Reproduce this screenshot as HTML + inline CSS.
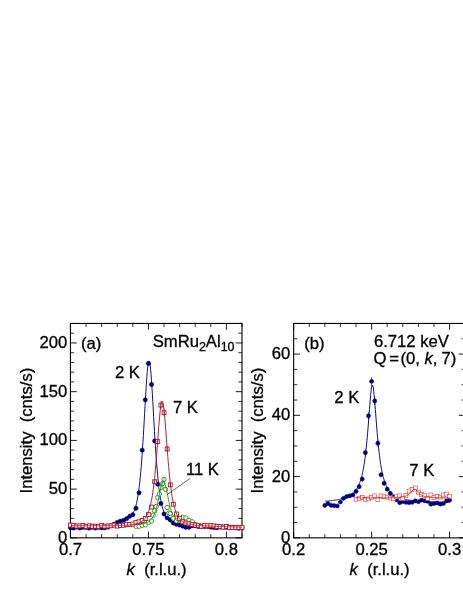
<!DOCTYPE html>
<html><head><meta charset="utf-8"><title>chart</title>
<style>html,body{margin:0;padding:0;background:#fff;}svg{display:block;will-change:transform;}text{font-family:"Liberation Sans", sans-serif;font-size:16px;fill:#000;stroke:#000;stroke-width:0.3px;}.s{font-size:12px;}.i{font-style:italic;}</style>
</head><body>
<svg width="463" height="599" viewBox="0 0 463 599">
<rect width="463" height="599" fill="#fff"/>
<g>
<path fill="none" stroke="#000" stroke-width="0.9" d="M70.45 537.85v-6.3M70.45 323.45v6.3M148.43 537.85v-6.3M148.43 323.45v6.3M226.4 537.85v-6.3M226.4 323.45v6.3M70.45 537.85h6.3M242 537.85h-6.3M70.45 489.12h6.3M242 489.12h-6.3M70.45 440.4h6.3M242 440.4h-6.3M70.45 391.67h6.3M242 391.67h-6.3M70.45 342.94h6.3M242 342.94h-6.3"/>
<path fill="none" stroke="#000" stroke-width="0.8" d="M86.05 537.85v-3.7M86.05 323.45v3.7M101.64 537.85v-3.7M101.64 323.45v3.7M117.24 537.85v-3.7M117.24 323.45v3.7M132.83 537.85v-3.7M132.83 323.45v3.7M164.02 537.85v-3.7M164.02 323.45v3.7M179.62 537.85v-3.7M179.62 323.45v3.7M195.21 537.85v-3.7M195.21 323.45v3.7M210.81 537.85v-3.7M210.81 323.45v3.7M242 537.85v-3.7M242 323.45v3.7M70.45 528.1h3.7M242 528.1h-3.7M70.45 518.36h3.7M242 518.36h-3.7M70.45 508.61h3.7M242 508.61h-3.7M70.45 498.87h3.7M242 498.87h-3.7M70.45 479.38h3.7M242 479.38h-3.7M70.45 469.63h3.7M242 469.63h-3.7M70.45 459.89h3.7M242 459.89h-3.7M70.45 450.14h3.7M242 450.14h-3.7M70.45 430.65h3.7M242 430.65h-3.7M70.45 420.9h3.7M242 420.9h-3.7M70.45 411.16h3.7M242 411.16h-3.7M70.45 401.41h3.7M242 401.41h-3.7M70.45 381.92h3.7M242 381.92h-3.7M70.45 372.18h3.7M242 372.18h-3.7M70.45 362.43h3.7M242 362.43h-3.7M70.45 352.69h3.7M242 352.69h-3.7M70.45 333.2h3.7M242 333.2h-3.7M70.45 323.45h3.7M242 323.45h-3.7"/>
<rect x="70.45" y="323.45" width="171.55" height="214.4" fill="none" stroke="#000" stroke-width="1.1"/>
<text transform="translate(70.45 554.6) scale(1.04 1.0)" text-anchor="middle">0.7</text>
<text transform="translate(148.43 554.6) scale(1.04 1.0)" text-anchor="middle">0.75</text>
<text transform="translate(226.4 554.6) scale(1.04 1.0)" text-anchor="middle">0.8</text>
<text transform="translate(67.15 542.85) scale(1.04 1.0)" text-anchor="end">0</text>
<text transform="translate(67.15 494.12) scale(1.04 1.0)" text-anchor="end">50</text>
<text transform="translate(67.15 445.4) scale(1.04 1.0)" text-anchor="end">100</text>
<text transform="translate(67.15 396.67) scale(1.04 1.0)" text-anchor="end">150</text>
<text transform="translate(67.15 347.94) scale(1.04 1.0)" text-anchor="end">200</text>
<polyline fill="none" stroke="#00007d" stroke-width="0.95" stroke-linejoin="round" points="70.45,526.8 70.88,526.8 71.31,526.8 71.74,526.8 72.17,526.8 72.59,526.8 73.02,526.8 73.45,526.79 73.88,526.79 74.31,526.79 74.74,526.79 75.17,526.79 75.6,526.79 76.03,526.79 76.45,526.79 76.88,526.79 77.31,526.78 77.74,526.78 78.17,526.78 78.6,526.78 79.03,526.78 79.46,526.78 79.88,526.78 80.31,526.78 80.74,526.77 81.17,526.77 81.6,526.77 82.03,526.77 82.46,526.77 82.89,526.77 83.32,526.76 83.74,526.76 84.17,526.76 84.6,526.76 85.03,526.76 85.46,526.75 85.89,526.75 86.32,526.75 86.75,526.75 87.18,526.74 87.6,526.74 88.03,526.74 88.46,526.74 88.89,526.73 89.32,526.73 89.75,526.73 90.18,526.72 90.61,526.72 91.04,526.72 91.46,526.71 91.89,526.71 92.32,526.71 92.75,526.7 93.18,526.7 93.61,526.69 94.04,526.69 94.47,526.68 94.9,526.68 95.32,526.67 95.75,526.67 96.18,526.66 96.61,526.66 97.04,526.65 97.47,526.65 97.9,526.64 98.33,526.63 98.75,526.63 99.18,526.62 99.61,526.61 100.04,526.61 100.47,526.6 100.9,526.59 101.33,526.58 101.76,526.57 102.19,526.56 102.61,526.55 103.04,526.54 103.47,526.53 103.9,526.52 104.33,526.51 104.76,526.49 105.19,526.48 105.62,526.47 106.05,526.45 106.47,526.44 106.9,526.42 107.33,526.4 107.76,526.38 108.19,526.36 108.62,526.34 109.05,526.31 109.48,526.29 109.91,526.26 110.33,526.23 110.76,526.19 111.19,526.15 111.62,526.1 112.05,526.05 112.48,525.99 112.91,525.92 113.34,525.84 113.77,525.75 114.19,525.65 114.62,525.53 115.05,525.4 115.48,525.25 115.91,525.09 116.34,524.9 116.77,524.7 117.2,524.47 117.62,524.22 118.05,523.96 118.48,523.67 118.91,523.36 119.34,523.03 119.77,522.68 120.2,522.32 120.63,521.95 121.06,521.57 121.48,521.18 121.91,520.8 122.34,520.42 122.77,520.04 123.2,519.68 123.63,519.33 124.06,518.99 124.49,518.68 124.92,518.39 125.34,518.13 125.77,517.89 126.2,517.67 126.63,517.47 127.06,517.3 127.49,517.13 127.92,516.97 128.35,516.82 128.78,516.66 129.2,516.5 129.63,516.31 130.06,516.1 130.49,515.85 130.92,515.56 131.35,515.21 131.78,514.8 132.21,514.32 132.64,513.76 133.06,513.11 133.49,512.35 133.92,511.49 134.35,510.5 134.78,509.39 135.21,508.12 135.64,506.71 136.07,505.12 136.49,503.34 136.92,501.37 137.35,499.18 137.78,496.75 138.21,494.07 138.64,491.11 139.07,487.86 139.5,484.29 139.93,480.38 140.35,476.11 140.78,471.47 141.21,466.45 141.64,461.02 142.07,455.2 142.5,448.98 142.93,442.39 143.36,435.46 143.79,428.24 144.21,420.8 144.64,413.23 145.07,405.63 145.5,398.15 145.93,390.92 146.36,384.12 146.79,377.9 147.22,372.45 147.65,367.93 148.07,364.48 148.5,362.22 148.93,361.21 149.36,361.51 149.79,363.09 150.22,365.91 150.65,369.86 151.08,374.83 151.51,380.64 151.93,387.15 152.36,394.17 152.79,401.53 153.22,409.08 153.65,416.69 154.08,424.21 154.51,431.56 154.94,438.66 155.36,445.45 155.79,451.87 156.22,457.92 156.65,463.57 157.08,468.83 157.51,473.69 157.94,478.18 158.37,482.3 158.8,486.08 159.22,489.54 159.65,492.7 160.08,495.58 160.51,498.2 160.94,500.59 161.37,502.77 161.8,504.75 162.23,506.55 162.66,508.19 163.08,509.68 163.51,511.04 163.94,512.27 164.37,513.4 164.8,514.43 165.23,515.37 165.66,516.22 166.09,517.01 166.52,517.72 166.94,518.38 167.37,518.98 167.8,519.53 168.23,520.04 168.66,520.5 169.09,520.93 169.52,521.32 169.95,521.69 170.37,522.02 170.8,522.33 171.23,522.62 171.66,522.88 172.09,523.12 172.52,523.35 172.95,523.56 173.38,523.75 173.81,523.94 174.23,524.1 174.66,524.26 175.09,524.41 175.52,524.54 175.95,524.67 176.38,524.79 176.81,524.9 177.24,525 177.67,525.1 178.09,525.19 178.52,525.27 178.95,525.35 179.38,525.43 179.81,525.5 180.24,525.56 180.67,525.63 181.1,525.68 181.53,525.74 181.95,525.79 182.38,525.84 182.81,525.89 183.24,525.93 183.67,525.97 184.1,526.01 184.53,526.05 184.96,526.08 185.39,526.11 185.81,526.14 186.24,526.17 186.67,526.2 187.1,526.23 187.53,526.26 187.96,526.29 188.39,526.32 188.82,526.36 189.24,526.39 189.67,526.42 190.1,526.45 190.53,526.48 190.96,526.5 191.39,526.53 191.82,526.56 192.25,526.58 192.68,526.61 193.1,526.63 193.53,526.65 193.96,526.68 194.39,526.7 194.82,526.72 195.25,526.74 195.68,526.76 196.11,526.78 196.54,526.8 196.96,526.82 197.39,526.84 197.82,526.86 198.25,526.88 198.68,526.9 199.11,526.92 199.54,526.93 199.97,526.95 200.4,526.97 200.82,526.98 201.25,527 201.68,527.02 202.11,527.03 202.54,527.05 202.97,527.07 203.4,527.08 203.83,527.1 204.26,527.11 204.68,527.13 205.11,527.14 205.54,527.16 205.97,527.17 206.4,527.19 206.83,527.2 207.26,527.21 207.69,527.23 208.11,527.24 208.54,527.26 208.97,527.27 209.4,527.28 209.83,527.3 210.26,527.31 210.69,527.32 211.12,527.34 211.55,527.35 211.97,527.36 212.4,527.38 212.83,527.39 213.26,527.4 213.69,527.42 214.12,527.43 214.55,527.44 214.98,527.45 215.41,527.47 215.83,527.48 216.26,527.49 216.69,527.5 217.12,527.52 217.55,527.53 217.98,527.54 218.41,527.55 218.84,527.56 219.27,527.58 219.69,527.59 220.12,527.6 220.55,527.61 220.98,527.62 221.41,527.64 221.84,527.65 222.27,527.66 222.7,527.67 223.13,527.68 223.55,527.7 223.98,527.71 224.41,527.72 224.84,527.73 225.27,527.74 225.7,527.75 226.13,527.77 226.56,527.78 226.98,527.79 227.41,527.8 227.84,527.81 228.27,527.82 228.7,527.83 229.13,527.85 229.56,527.86 229.99,527.87 230.42,527.88 230.84,527.89 231.27,527.9 231.7,527.91 232.13,527.93 232.56,527.94 232.99,527.95 233.42,527.96 233.85,527.97 234.28,527.98 234.7,527.99 235.13,528 235.56,528.02 235.99,528.03 236.42,528.04 236.85,528.05 237.28,528.06 237.71,528.07 238.14,528.08 238.56,528.09 238.99,528.11 239.42,528.12 239.85,528.13 240.28,528.14 240.71,528.15 241.14,528.16 241.57,528.17 242,528.18"/>
<g fill="#00007d" stroke="#00007d" stroke-width="0.4">
<circle cx="70.45" cy="527.69" r="2.2"/>
<circle cx="73.57" cy="527.99" r="2.2"/>
<circle cx="76.69" cy="527.11" r="2.2"/>
<circle cx="79.81" cy="528.11" r="2.2"/>
<circle cx="82.93" cy="527.29" r="2.2"/>
<circle cx="86.05" cy="527.57" r="2.2"/>
<circle cx="89.16" cy="528.09" r="2.2"/>
<circle cx="92.28" cy="527.28" r="2.2"/>
<circle cx="95.4" cy="528.07" r="2.2"/>
<circle cx="98.52" cy="527.33" r="2.2"/>
<circle cx="101.64" cy="527.91" r="2.2"/>
<circle cx="104.76" cy="527.8" r="2.2"/>
<circle cx="107.88" cy="527.09" r="2.2"/>
<circle cx="111" cy="525.57" r="2.2"/>
<circle cx="114.12" cy="524.21" r="2.2"/>
<circle cx="117.24" cy="522.35" r="2.2"/>
<circle cx="120.35" cy="521.09" r="2.2"/>
<circle cx="123.47" cy="520.41" r="2.2"/>
<circle cx="126.59" cy="518.65" r="2.2"/>
<circle cx="129.71" cy="516.31" r="2.2"/>
<circle cx="132.83" cy="514.75" r="2.2"/>
<circle cx="135.95" cy="508.32" r="2.2"/>
<circle cx="139.07" cy="492.73" r="2.2"/>
<circle cx="142.19" cy="450.14" r="2.2"/>
<circle cx="145.31" cy="399.85" r="2.2"/>
<circle cx="148.43" cy="363.41" r="2.2"/>
<circle cx="151.54" cy="384.46" r="2.2"/>
<circle cx="154.66" cy="440.88" r="2.2"/>
<circle cx="157.78" cy="484.25" r="2.2"/>
<circle cx="160.9" cy="503.55" r="2.2"/>
<circle cx="164.02" cy="513.97" r="2.2"/>
<circle cx="167.14" cy="517.87" r="2.2"/>
<circle cx="170.26" cy="519.72" r="2.2"/>
<circle cx="173.38" cy="522.94" r="2.2"/>
<circle cx="176.5" cy="524.21" r="2.2"/>
<circle cx="179.62" cy="524.99" r="2.2"/>
<circle cx="182.73" cy="526.16" r="2.2"/>
<circle cx="185.85" cy="527.32" r="2.2"/>
<circle cx="188.97" cy="527.28" r="2.2"/>
<circle cx="192.09" cy="525.69" r="2.2"/>
<circle cx="195.21" cy="525.78" r="2.2"/>
<circle cx="198.33" cy="526.61" r="2.2"/>
<circle cx="201.45" cy="526.56" r="2.2"/>
<circle cx="204.57" cy="526.54" r="2.2"/>
<circle cx="207.69" cy="526.45" r="2.2"/>
<circle cx="210.81" cy="527.13" r="2.2"/>
<circle cx="213.92" cy="527.5" r="2.2"/>
<circle cx="217.04" cy="527.72" r="2.2"/>
<circle cx="220.16" cy="527.11" r="2.2"/>
<circle cx="223.28" cy="527.1" r="2.2"/>
<circle cx="226.4" cy="527.37" r="2.2"/>
<circle cx="229.52" cy="527.57" r="2.2"/>
<circle cx="232.64" cy="527.4" r="2.2"/>
<circle cx="235.76" cy="527.84" r="2.2"/>
<circle cx="238.88" cy="528.33" r="2.2"/>
<circle cx="242" cy="527.84" r="2.2"/>
</g>
<g fill="#fff" stroke="#2aa02a" stroke-width="1.0">
<circle cx="135.95" cy="526.31" r="2.2"/>
<circle cx="139.07" cy="526.29" r="2.2"/>
<circle cx="142.19" cy="525.31" r="2.2"/>
<circle cx="145.31" cy="524.79" r="2.2"/>
<circle cx="148.43" cy="522.38" r="2.2"/>
<circle cx="151.54" cy="520.9" r="2.2"/>
<circle cx="153.1" cy="515.2" r="2.2"/>
<circle cx="154.66" cy="510.86" r="2.2"/>
<circle cx="156.22" cy="506.57" r="2.2"/>
<circle cx="157.78" cy="497.5" r="2.2"/>
<circle cx="159.34" cy="494" r="2.2"/>
<circle cx="160.9" cy="487.56" r="2.2"/>
<circle cx="162.46" cy="483.76" r="2.2"/>
<circle cx="164.02" cy="479.38" r="2.2"/>
<circle cx="165.58" cy="489.42" r="2.2"/>
<circle cx="167.14" cy="507.44" r="2.2"/>
<circle cx="168.7" cy="513" r="2.2"/>
<circle cx="170.26" cy="513.49" r="2.2"/>
<circle cx="173.38" cy="518.16" r="2.2"/>
<circle cx="176.5" cy="520.8" r="2.2"/>
<circle cx="179.62" cy="519.33" r="2.2"/>
<circle cx="182.73" cy="517.38" r="2.2"/>
<circle cx="185.85" cy="517.97" r="2.2"/>
<circle cx="188.97" cy="520.31" r="2.2"/>
<circle cx="192.09" cy="521.77" r="2.2"/>
<circle cx="195.21" cy="524.69" r="2.2"/>
</g>
<path fill="none" stroke="#2aa02a" stroke-width="0.6" d="M160.9 485.23V489.9M162.46 481.34V486.18M164.02 476.86V481.89"/>
<polyline fill="none" stroke="#4f7d12" stroke-width="1.0" stroke-linejoin="round" points="135.95,524.57 136.1,524.56 136.25,524.55 136.39,524.54 136.54,524.53 136.69,524.52 136.84,524.51 136.99,524.5 137.13,524.49 137.28,524.48 137.43,524.47 137.58,524.46 137.73,524.45 137.87,524.44 138.02,524.43 138.17,524.42 138.32,524.4 138.47,524.39 138.62,524.38 138.76,524.37 138.91,524.35 139.06,524.34 139.21,524.33 139.36,524.31 139.5,524.3 139.65,524.28 139.8,524.27 139.95,524.25 140.1,524.23 140.25,524.22 140.39,524.2 140.54,524.18 140.69,524.16 140.84,524.14 140.99,524.13 141.13,524.11 141.28,524.09 141.43,524.06 141.58,524.04 141.73,524.02 141.88,524 142.02,523.97 142.17,523.95 142.32,523.93 142.47,523.9 142.62,523.87 142.76,523.85 142.91,523.82 143.06,523.79 143.21,523.76 143.36,523.73 143.5,523.7 143.65,523.67 143.8,523.63 143.95,523.6 144.1,523.56 144.25,523.53 144.39,523.49 144.54,523.45 144.69,523.41 144.84,523.37 144.99,523.33 145.13,523.28 145.28,523.24 145.43,523.19 145.58,523.14 145.73,523.1 145.88,523.04 146.02,522.99 146.17,522.94 146.32,522.88 146.47,522.82 146.62,522.76 146.76,522.7 146.91,522.64 147.06,522.57 147.21,522.5 147.36,522.43 147.5,522.36 147.65,522.28 147.8,522.21 147.95,522.13 148.1,522.04 148.25,521.96 148.39,521.87 148.54,521.78 148.69,521.68 148.84,521.58 148.99,521.48 149.13,521.38 149.28,521.27 149.43,521.16 149.58,521.04 149.73,520.92 149.88,520.79 150.02,520.67 150.17,520.53 150.32,520.39 150.47,520.25 150.62,520.1 150.76,519.95 150.91,519.79 151.06,519.62 151.21,519.45 151.36,519.28 151.51,519.09 151.65,518.91 151.8,518.71 151.95,518.51 152.1,518.3 152.25,518.08 152.39,517.85 152.54,517.62 152.69,517.38 152.84,517.13 152.99,516.87 153.13,516.6 153.28,516.32 153.43,516.04 153.58,515.74 153.73,515.43 153.88,515.12 154.02,514.79 154.17,514.45 154.32,514.1 154.47,513.74 154.62,513.36 154.76,512.97 154.91,512.57 155.06,512.16 155.21,511.74 155.36,511.3 155.51,510.85 155.65,510.38 155.8,509.9 155.95,509.41 156.1,508.9 156.25,508.38 156.39,507.84 156.54,507.29 156.69,506.72 156.84,506.14 156.99,505.55 157.13,504.94 157.28,504.32 157.43,503.69 157.58,503.04 157.73,502.38 157.88,501.71 158.02,501.02 158.17,500.33 158.32,499.62 158.47,498.91 158.62,498.19 158.76,497.46 158.91,496.73 159.06,495.99 159.21,495.24 159.36,494.5 159.51,493.76 159.65,493.02 159.8,492.28 159.95,491.55 160.1,490.82 160.25,490.11 160.39,489.4 160.54,488.71 160.69,488.04 160.84,487.38 160.99,486.75 161.13,486.14 161.28,485.55 161.43,485 161.58,484.47 161.73,483.97 161.88,483.51 162.02,483.08 162.17,482.7 162.32,482.35 162.47,482.04 162.62,481.78 162.76,481.56 162.91,481.38 163.06,481.25 163.21,481.17 163.36,481.13 163.51,481.14 163.65,481.2 163.8,481.31 163.95,481.46 164.1,481.65 164.25,481.9 164.39,482.18 164.54,482.51 164.69,482.87 164.84,483.28 164.99,483.72 165.14,484.2 165.28,484.71 165.43,485.26 165.58,485.83 165.73,486.43 165.88,487.05 166.02,487.69 166.17,488.36 166.32,489.04 166.47,489.73 166.62,490.44 166.76,491.16 166.91,491.89 167.06,492.63 167.21,493.37 167.36,494.11 167.51,494.85 167.65,495.6 167.8,496.34 167.95,497.07 168.1,497.81 168.25,498.53 168.39,499.25 168.54,499.96 168.69,500.66 168.84,501.35 168.99,502.03 169.14,502.69 169.28,503.35 169.43,503.99 169.58,504.62 169.73,505.23 169.88,505.83 170.02,506.42 170.17,506.99 170.32,507.55 170.47,508.1 170.62,508.63 170.76,509.14 170.91,509.64 171.06,510.13 171.21,510.6 171.36,511.06 171.51,511.51 171.65,511.94 171.8,512.36 171.95,512.77 172.1,513.16 172.25,513.54 172.39,513.91 172.54,514.27 172.69,514.61 172.84,514.94 172.99,515.27 173.14,515.58 173.28,515.88 173.43,516.17 173.58,516.46 173.73,516.73 173.88,516.99 174.02,517.25 174.17,517.49 174.32,517.73 174.47,517.96 174.62,518.18 174.76,518.4 174.91,518.6 175.06,518.8 175.21,519 175.36,519.18 175.51,519.36 175.65,519.54 175.8,519.7 175.95,519.86 176.1,520.02 176.25,520.17 176.39,520.32 176.54,520.46 176.69,520.6 176.84,520.73 176.99,520.85 177.14,520.98 177.28,521.1 177.43,521.21 177.58,521.32 177.73,521.43 177.88,521.53 178.02,521.63 178.17,521.73 178.32,521.82 178.47,521.91 178.62,522 178.77,522.08 178.91,522.17 179.06,522.24 179.21,522.32 179.36,522.39 179.51,522.47 179.65,522.54 179.8,522.6 179.95,522.67 180.1,522.73 180.25,522.79 180.39,522.85 180.54,522.91 180.69,522.96 180.84,523.02 180.99,523.07 181.14,523.12 181.28,523.17 181.43,523.21 181.58,523.26 181.73,523.3 181.88,523.35 182.02,523.39 182.17,523.43 182.32,523.47 182.47,523.51 182.62,523.54 182.77,523.58 182.91,523.62 183.06,523.65 183.21,523.68 183.36,523.71 183.51,523.74 183.65,523.77 183.8,523.8 183.95,523.83 184.1,523.86 184.25,523.89 184.39,523.91 184.54,523.94 184.69,523.96 184.84,523.99 184.99,524.01 185.14,524.03 185.28,524.05 185.43,524.07 185.58,524.09 185.73,524.12 185.88,524.13 186.02,524.15 186.17,524.17 186.32,524.19 186.47,524.21 186.62,524.22 186.77,524.24 186.91,524.26 187.06,524.27 187.21,524.29 187.36,524.3 187.51,524.32 187.65,524.33 187.8,524.35 187.95,524.36 188.1,524.37 188.25,524.39 188.39,524.4 188.54,524.41 188.69,524.42 188.84,524.43 188.99,524.45 189.14,524.46 189.28,524.47 189.43,524.48 189.58,524.49 189.73,524.5 189.88,524.51 190.02,524.52 190.17,524.53 190.32,524.53 190.47,524.54 190.62,524.55 190.77,524.56 190.91,524.57 191.06,524.58 191.21,524.58 191.36,524.59 191.51,524.6 191.65,524.61 191.8,524.61 191.95,524.62 192.1,524.63 192.25,524.63 192.4,524.64 192.54,524.65 192.69,524.65 192.84,524.66 192.99,524.67 193.14,524.67 193.28,524.68 193.43,524.68 193.58,524.69 193.73,524.69 193.88,524.7 194.02,524.7 194.17,524.71 194.32,524.71 194.47,524.72 194.62,524.72 194.77,524.73 194.91,524.73 195.06,524.74 195.21,524.74"/>
<g fill="#fff" stroke="#b01525" stroke-width="0.9">
<rect x="68.5" y="523.13" width="3.9" height="3.9"/>
<rect x="71.62" y="523.36" width="3.9" height="3.9"/>
<rect x="74.74" y="524.09" width="3.9" height="3.9"/>
<rect x="77.86" y="523.95" width="3.9" height="3.9"/>
<rect x="80.98" y="523.56" width="3.9" height="3.9"/>
<rect x="84.1" y="524.44" width="3.9" height="3.9"/>
<rect x="87.21" y="523.83" width="3.9" height="3.9"/>
<rect x="90.33" y="524.22" width="3.9" height="3.9"/>
<rect x="93.45" y="524.29" width="3.9" height="3.9"/>
<rect x="96.57" y="524.35" width="3.9" height="3.9"/>
<rect x="99.69" y="523.37" width="3.9" height="3.9"/>
<rect x="102.81" y="524.23" width="3.9" height="3.9"/>
<rect x="105.93" y="524.04" width="3.9" height="3.9"/>
<rect x="109.05" y="523.82" width="3.9" height="3.9"/>
<rect x="112.17" y="523.12" width="3.9" height="3.9"/>
<rect x="115.29" y="524.14" width="3.9" height="3.9"/>
<rect x="118.4" y="523.56" width="3.9" height="3.9"/>
<rect x="121.52" y="523.32" width="3.9" height="3.9"/>
<rect x="124.64" y="522.7" width="3.9" height="3.9"/>
<rect x="127.76" y="522.55" width="3.9" height="3.9"/>
<rect x="130.88" y="522.12" width="3.9" height="3.9"/>
<rect x="134" y="520.4" width="3.9" height="3.9"/>
<rect x="137.12" y="519.82" width="3.9" height="3.9"/>
<rect x="140.24" y="518.46" width="3.9" height="3.9"/>
<rect x="143.36" y="516.51" width="3.9" height="3.9"/>
<rect x="146.48" y="512.61" width="3.9" height="3.9"/>
<rect x="149.59" y="505.1" width="3.9" height="3.9"/>
<rect x="152.71" y="479.77" width="3.9" height="3.9"/>
<rect x="155.83" y="439.61" width="3.9" height="3.9"/>
<rect x="158.95" y="403.17" width="3.9" height="3.9"/>
<rect x="162.07" y="410.77" width="3.9" height="3.9"/>
<rect x="165.19" y="447.02" width="3.9" height="3.9"/>
<rect x="168.31" y="482.88" width="3.9" height="3.9"/>
<rect x="171.43" y="502.28" width="3.9" height="3.9"/>
<rect x="174.55" y="512.02" width="3.9" height="3.9"/>
<rect x="177.67" y="516.51" width="3.9" height="3.9"/>
<rect x="180.78" y="519.82" width="3.9" height="3.9"/>
<rect x="183.9" y="521.09" width="3.9" height="3.9"/>
<rect x="187.02" y="521.77" width="3.9" height="3.9"/>
<rect x="190.14" y="522.65" width="3.9" height="3.9"/>
<rect x="193.26" y="523.08" width="3.9" height="3.9"/>
<rect x="196.38" y="523.29" width="3.9" height="3.9"/>
<rect x="199.5" y="524.37" width="3.9" height="3.9"/>
<rect x="202.62" y="523.4" width="3.9" height="3.9"/>
<rect x="205.74" y="523.71" width="3.9" height="3.9"/>
<rect x="208.86" y="523.71" width="3.9" height="3.9"/>
<rect x="211.97" y="523.93" width="3.9" height="3.9"/>
<rect x="215.09" y="524.59" width="3.9" height="3.9"/>
<rect x="218.21" y="524.68" width="3.9" height="3.9"/>
<rect x="221.33" y="525.18" width="3.9" height="3.9"/>
<rect x="224.45" y="524.55" width="3.9" height="3.9"/>
<rect x="227.57" y="525.41" width="3.9" height="3.9"/>
<rect x="230.69" y="525.49" width="3.9" height="3.9"/>
<rect x="233.81" y="525.39" width="3.9" height="3.9"/>
<rect x="236.93" y="525.53" width="3.9" height="3.9"/>
<rect x="240.05" y="525.37" width="3.9" height="3.9"/>
</g>
<path fill="none" stroke="#b01525" stroke-width="0.7" d="M154.66 479.25V484.18M157.78 438.34V444.79M160.9 401.33V408.91M164.02 409.04V416.4M167.14 445.87V452.07M170.26 482.44V487.23"/>
<polyline fill="none" stroke="#b01525" stroke-width="0.95" stroke-linejoin="round" points="70.45,525.75 70.88,525.75 71.31,525.75 71.74,525.75 72.17,525.75 72.59,525.75 73.02,525.75 73.45,525.75 73.88,525.75 74.31,525.75 74.74,525.75 75.17,525.75 75.6,525.75 76.03,525.75 76.45,525.75 76.88,525.75 77.31,525.75 77.74,525.74 78.17,525.74 78.6,525.74 79.03,525.74 79.46,525.74 79.88,525.74 80.31,525.74 80.74,525.74 81.17,525.74 81.6,525.74 82.03,525.74 82.46,525.74 82.89,525.74 83.32,525.74 83.74,525.74 84.17,525.74 84.6,525.74 85.03,525.74 85.46,525.74 85.89,525.73 86.32,525.73 86.75,525.73 87.18,525.73 87.6,525.73 88.03,525.73 88.46,525.73 88.89,525.73 89.32,525.73 89.75,525.73 90.18,525.73 90.61,525.73 91.04,525.72 91.46,525.72 91.89,525.72 92.32,525.72 92.75,525.72 93.18,525.72 93.61,525.72 94.04,525.72 94.47,525.72 94.9,525.71 95.32,525.71 95.75,525.71 96.18,525.71 96.61,525.71 97.04,525.71 97.47,525.71 97.9,525.7 98.33,525.7 98.75,525.7 99.18,525.7 99.61,525.7 100.04,525.7 100.47,525.69 100.9,525.69 101.33,525.69 101.76,525.69 102.19,525.69 102.61,525.68 103.04,525.68 103.47,525.68 103.9,525.68 104.33,525.67 104.76,525.67 105.19,525.67 105.62,525.66 106.05,525.66 106.47,525.66 106.9,525.66 107.33,525.65 107.76,525.65 108.19,525.64 108.62,525.64 109.05,525.64 109.48,525.63 109.91,525.63 110.33,525.62 110.76,525.62 111.19,525.61 111.62,525.61 112.05,525.6 112.48,525.6 112.91,525.59 113.34,525.59 113.77,525.58 114.19,525.58 114.62,525.57 115.05,525.56 115.48,525.55 115.91,525.55 116.34,525.54 116.77,525.53 117.2,525.52 117.62,525.51 118.05,525.5 118.48,525.49 118.91,525.48 119.34,525.47 119.77,525.46 120.2,525.45 120.63,525.44 121.06,525.42 121.48,525.41 121.91,525.39 122.34,525.38 122.77,525.36 123.2,525.35 123.63,525.33 124.06,525.31 124.49,525.29 124.92,525.27 125.34,525.25 125.77,525.22 126.2,525.2 126.63,525.17 127.06,525.14 127.49,525.12 127.92,525.08 128.35,525.05 128.78,525.02 129.2,524.98 129.63,524.94 130.06,524.9 130.49,524.86 130.92,524.81 131.35,524.76 131.78,524.71 132.21,524.65 132.64,524.59 133.06,524.53 133.49,524.46 133.92,524.39 134.35,524.31 134.78,524.23 135.21,524.14 135.64,524.05 136.07,523.94 136.49,523.84 136.92,523.72 137.35,523.59 137.78,523.46 138.21,523.31 138.64,523.15 139.07,522.99 139.5,522.8 139.93,522.61 140.35,522.39 140.78,522.16 141.21,521.91 141.64,521.64 142.07,521.35 142.5,521.03 142.93,520.68 143.36,520.3 143.79,519.89 144.21,519.44 144.64,518.95 145.07,518.41 145.5,517.83 145.93,517.19 146.36,516.49 146.79,515.72 147.22,514.88 147.65,513.96 148.07,512.94 148.5,511.83 148.93,510.61 149.36,509.26 149.79,507.78 150.22,506.16 150.65,504.38 151.08,502.42 151.51,500.27 151.93,497.91 152.36,495.33 152.79,492.5 153.22,489.42 153.65,486.07 154.08,482.43 154.51,478.5 154.94,474.27 155.36,469.75 155.79,464.93 156.22,459.85 156.65,454.52 157.08,449 157.51,443.35 157.94,437.62 158.37,431.93 158.8,426.37 159.22,421.05 159.65,416.12 160.08,411.68 160.51,407.88 160.94,404.83 161.37,402.63 161.8,401.35 162.23,401.04 162.66,401.71 163.08,403.33 163.51,405.85 163.94,409.18 164.37,413.23 164.8,417.86 165.23,422.95 165.66,428.37 166.09,433.99 166.52,439.71 166.94,445.42 167.37,451.03 167.8,456.49 168.23,461.73 168.66,466.72 169.09,471.43 169.52,475.85 169.95,479.97 170.37,483.79 170.8,487.32 171.23,490.57 171.66,493.56 172.09,496.29 172.52,498.79 172.95,501.07 173.38,503.15 173.81,505.04 174.23,506.77 174.66,508.34 175.09,509.77 175.52,511.06 175.95,512.25 176.38,513.32 176.81,514.3 177.24,515.19 177.67,516.01 178.09,516.75 178.52,517.43 178.95,518.05 179.38,518.61 179.81,519.13 180.24,519.61 180.67,520.04 181.1,520.44 181.53,520.81 181.95,521.15 182.38,521.46 182.81,521.74 183.24,522 183.67,522.25 184.1,522.47 184.53,522.68 184.96,522.87 185.39,523.05 185.81,523.21 186.24,523.37 186.67,523.51 187.1,523.64 187.53,523.77 187.96,523.89 188.39,524.01 188.82,524.12 189.24,524.22 189.67,524.32 190.1,524.41 190.53,524.49 190.96,524.58 191.39,524.65 191.82,524.73 192.25,524.79 192.68,524.86 193.1,524.92 193.53,524.98 193.96,525.04 194.39,525.09 194.82,525.14 195.25,525.19 195.68,525.24 196.11,525.28 196.54,525.32 196.96,525.36 197.39,525.4 197.82,525.44 198.25,525.48 198.68,525.51 199.11,525.55 199.54,525.58 199.97,525.61 200.4,525.64 200.82,525.67 201.25,525.7 201.68,525.72 202.11,525.75 202.54,525.78 202.97,525.8 203.4,525.83 203.83,525.85 204.26,525.87 204.68,525.9 205.11,525.92 205.54,525.94 205.97,525.96 206.4,525.98 206.83,526 207.26,526.02 207.69,526.04 208.11,526.06 208.54,526.08 208.97,526.1 209.4,526.11 209.83,526.13 210.26,526.15 210.69,526.17 211.12,526.18 211.55,526.2 211.97,526.22 212.4,526.23 212.83,526.25 213.26,526.26 213.69,526.28 214.12,526.29 214.55,526.31 214.98,526.32 215.41,526.34 215.83,526.35 216.26,526.37 216.69,526.38 217.12,526.4 217.55,526.41 217.98,526.42 218.41,526.44 218.84,526.45 219.27,526.47 219.69,526.48 220.12,526.49 220.55,526.51 220.98,526.52 221.41,526.53 221.84,526.54 222.27,526.56 222.7,526.57 223.13,526.58 223.55,526.6 223.98,526.61 224.41,526.62 224.84,526.63 225.27,526.65 225.7,526.66 226.13,526.67 226.56,526.68 226.98,526.7 227.41,526.71 227.84,526.72 228.27,526.73 228.7,526.74 229.13,526.76 229.56,526.77 229.99,526.78 230.42,526.79 230.84,526.8 231.27,526.82 231.7,526.83 232.13,526.84 232.56,526.85 232.99,526.86 233.42,526.87 233.85,526.89 234.28,526.9 234.7,526.91 235.13,526.92 235.56,526.93 235.99,526.94 236.42,526.96 236.85,526.97 237.28,526.98 237.71,526.99 238.14,527 238.56,527.01 238.99,527.02 239.42,527.04 239.85,527.05 240.28,527.06 240.71,527.07 241.14,527.08 241.57,527.09 242,527.1"/>
<line x1="190.2" y1="478.4" x2="167" y2="494.6" stroke="#222" stroke-width="0.7"/>
<text transform="translate(81 349) scale(1.04 1.0)">(a)</text>
<text transform="translate(152.7 346.6) scale(1.04 1.0)">SmRu<tspan class="s" dy="4">2</tspan><tspan dy="-4">Al</tspan><tspan class="s" dy="4">10</tspan></text>
<text transform="translate(115 377.6) scale(1.04 1.0)">2 K</text>
<text transform="translate(173 413.2) scale(1.04 1.0)">7 K</text>
<text transform="translate(185.9 474.6) scale(1.04 1.0)">11 K</text>
<text transform="translate(156.6 575.1) scale(1.04 1.0)" text-anchor="middle" xml:space="preserve"><tspan class="i">k</tspan>  (r.l.u.)</text>
<text transform="translate(32.1 430.6) rotate(-90) scale(1.04 1.0)" text-anchor="middle" xml:space="preserve">Intensity  (cnts/s)</text>
</g>
<g>
<path fill="none" stroke="#000" stroke-width="0.9" d="M293.65 537.85v-6.3M293.65 323.45v6.3M371.62 537.85v-6.3M371.62 323.45v6.3M449.6 537.85v-6.3M449.6 323.45v6.3M293.65 537.85h6.3M465.19 537.85h-6.3M293.65 476.59h6.3M465.19 476.59h-6.3M293.65 415.34h6.3M465.19 415.34h-6.3M293.65 354.08h6.3M465.19 354.08h-6.3"/>
<path fill="none" stroke="#000" stroke-width="0.8" d="M309.24 537.85v-3.7M309.24 323.45v3.7M324.84 537.85v-3.7M324.84 323.45v3.7M340.43 537.85v-3.7M340.43 323.45v3.7M356.03 537.85v-3.7M356.03 323.45v3.7M387.22 537.85v-3.7M387.22 323.45v3.7M402.81 537.85v-3.7M402.81 323.45v3.7M418.41 537.85v-3.7M418.41 323.45v3.7M434 537.85v-3.7M434 323.45v3.7M465.19 537.85v-3.7M465.19 323.45v3.7M293.65 522.54h3.7M465.19 522.54h-3.7M293.65 507.22h3.7M465.19 507.22h-3.7M293.65 491.91h3.7M465.19 491.91h-3.7M293.65 461.28h3.7M465.19 461.28h-3.7M293.65 445.96h3.7M465.19 445.96h-3.7M293.65 430.65h3.7M465.19 430.65h-3.7M293.65 400.02h3.7M465.19 400.02h-3.7M293.65 384.71h3.7M465.19 384.71h-3.7M293.65 369.39h3.7M465.19 369.39h-3.7M293.65 338.76h3.7M465.19 338.76h-3.7M293.65 323.45h3.7M465.19 323.45h-3.7"/>
<rect x="293.65" y="323.45" width="171.54" height="214.4" fill="none" stroke="#000" stroke-width="1.1"/>
<text transform="translate(293.65 554.6) scale(1.04 1.0)" text-anchor="middle">0.2</text>
<text transform="translate(371.62 554.6) scale(1.04 1.0)" text-anchor="middle">0.25</text>
<text transform="translate(449.6 554.6) scale(1.04 1.0)" text-anchor="middle">0.3</text>
<text transform="translate(290.35 542.85) scale(1.04 1.0)" text-anchor="end">0</text>
<text transform="translate(290.35 481.59) scale(1.04 1.0)" text-anchor="end">20</text>
<text transform="translate(290.35 420.34) scale(1.04 1.0)" text-anchor="end">40</text>
<text transform="translate(290.35 359.08) scale(1.04 1.0)" text-anchor="end">60</text>
<polyline fill="none" stroke="#00007d" stroke-width="0.95" stroke-linejoin="round" points="324.84,501.22 325.15,501.2 325.46,501.18 325.78,501.15 326.09,501.13 326.4,501.11 326.71,501.08 327.02,501.06 327.34,501.03 327.65,501.01 327.96,500.98 328.27,500.95 328.58,500.92 328.89,500.9 329.21,500.87 329.52,500.84 329.83,500.81 330.14,500.78 330.45,500.74 330.77,500.71 331.08,500.68 331.39,500.64 331.7,500.61 332.01,500.58 332.33,500.54 332.64,500.5 332.95,500.46 333.26,500.43 333.57,500.39 333.89,500.35 334.2,500.3 334.51,500.26 334.82,500.22 335.13,500.17 335.44,500.13 335.76,500.08 336.07,500.03 336.38,499.98 336.69,499.93 337,499.88 337.32,499.83 337.63,499.77 337.94,499.72 338.25,499.66 338.56,499.6 338.88,499.54 339.19,499.48 339.5,499.42 339.81,499.35 340.12,499.28 340.43,499.21 340.75,499.14 341.06,499.07 341.37,498.99 341.68,498.92 341.99,498.84 342.31,498.75 342.62,498.67 342.93,498.58 343.24,498.49 343.55,498.4 343.87,498.3 344.18,498.2 344.49,498.1 344.8,498 345.11,497.89 345.43,497.78 345.74,497.66 346.05,497.54 346.36,497.42 346.67,497.29 346.98,497.16 347.3,497.02 347.61,496.88 347.92,496.73 348.23,496.58 348.54,496.42 348.86,496.25 349.17,496.08 349.48,495.91 349.79,495.72 350.1,495.53 350.42,495.34 350.73,495.13 351.04,494.92 351.35,494.69 351.66,494.46 351.98,494.22 352.29,493.97 352.6,493.71 352.91,493.43 353.22,493.15 353.53,492.85 353.85,492.54 354.16,492.21 354.47,491.87 354.78,491.52 355.09,491.14 355.41,490.75 355.72,490.34 356.03,489.91 356.34,489.46 356.65,488.98 356.97,488.48 357.28,487.96 357.59,487.4 357.9,486.82 358.21,486.2 358.53,485.56 358.84,484.87 359.15,484.15 359.46,483.38 359.77,482.58 360.08,481.72 360.4,480.81 360.71,479.85 361.02,478.83 361.33,477.75 361.64,476.6 361.96,475.38 362.27,474.08 362.58,472.69 362.89,471.22 363.2,469.65 363.52,467.98 363.83,466.19 364.14,464.29 364.45,462.27 364.76,460.11 365.08,457.82 365.39,455.37 365.7,452.77 366.01,450 366.32,447.07 366.63,443.97 366.95,440.7 367.26,437.26 367.57,433.65 367.88,429.89 368.19,425.99 368.51,421.97 368.82,417.88 369.13,413.74 369.44,409.62 369.75,405.57 370.07,401.66 370.38,397.97 370.69,394.59 371,391.6 371.31,389.09 371.62,387.13 371.94,385.78 372.25,385.1 372.56,385.1 372.87,385.78 373.18,387.13 373.5,389.09 373.81,391.6 374.12,394.59 374.43,397.97 374.74,401.66 375.06,405.57 375.37,409.62 375.68,413.74 375.99,417.88 376.3,421.97 376.62,425.99 376.93,429.89 377.24,433.65 377.55,437.26 377.86,440.7 378.17,443.97 378.49,447.07 378.8,450 379.11,452.77 379.42,455.37 379.73,457.82 380.05,460.11 380.36,462.27 380.67,464.29 380.98,466.19 381.29,467.98 381.61,469.65 381.92,471.22 382.23,472.69 382.54,474.08 382.85,475.38 383.17,476.6 383.48,477.75 383.79,478.83 384.1,479.85 384.41,480.81 384.72,481.72 385.04,482.58 385.35,483.38 385.66,484.15 385.97,484.87 386.28,485.56 386.6,486.2 386.91,486.82 387.22,487.4 387.53,487.96 387.84,488.48 388.16,488.98 388.47,489.46 388.78,489.91 389.09,490.34 389.4,490.75 389.72,491.14 390.03,491.52 390.34,491.87 390.65,492.21 390.96,492.54 391.27,492.85 391.59,493.15 391.9,493.43 392.21,493.71 392.52,493.97 392.83,494.22 393.15,494.46 393.46,494.69 393.77,494.92 394.08,495.13 394.39,495.34 394.71,495.53 395.02,495.72 395.33,495.91 395.64,496.08 395.95,496.25 396.27,496.42 396.58,496.58 396.89,496.73 397.2,496.88 397.51,497.02 397.82,497.16 398.14,497.29 398.45,497.42 398.76,497.54 399.07,497.66 399.38,497.78 399.7,497.89 400.01,498 400.32,498.1 400.63,498.2 400.94,498.3 401.26,498.4 401.57,498.49 401.88,498.58 402.19,498.67 402.5,498.75 402.81,498.84 403.13,498.92 403.44,498.99 403.75,499.07 404.06,499.14 404.37,499.21 404.69,499.28 405,499.35 405.31,499.42 405.62,499.48 405.93,499.54 406.25,499.6 406.56,499.66 406.87,499.72 407.18,499.77 407.49,499.83 407.81,499.88 408.12,499.93 408.43,499.98 408.74,500.03 409.05,500.08 409.36,500.13 409.68,500.17 409.99,500.22 410.3,500.26 410.61,500.3 410.92,500.35 411.24,500.39 411.55,500.43 411.86,500.46 412.17,500.5 412.48,500.54 412.8,500.58 413.11,500.61 413.42,500.64 413.73,500.68 414.04,500.71 414.36,500.74 414.67,500.78 414.98,500.81 415.29,500.84 415.6,500.87 415.91,500.9 416.23,500.92 416.54,500.95 416.85,500.98 417.16,501.01 417.47,501.03 417.79,501.06 418.1,501.08 418.41,501.11 418.72,501.13 419.03,501.15 419.35,501.18 419.66,501.2 419.97,501.22 420.28,501.25 420.59,501.27 420.91,501.29 421.22,501.31 421.53,501.33 421.84,501.35 422.15,501.37 422.46,501.39 422.78,501.41 423.09,501.42 423.4,501.44 423.71,501.46 424.02,501.48 424.34,501.5 424.65,501.51 424.96,501.53 425.27,501.55 425.58,501.56 425.9,501.58 426.21,501.59 426.52,501.61 426.83,501.62 427.14,501.64 427.46,501.65 427.77,501.67 428.08,501.68 428.39,501.69 428.7,501.71 429.01,501.72 429.33,501.73 429.64,501.75 429.95,501.76 430.26,501.77 430.57,501.78 430.89,501.8 431.2,501.81 431.51,501.82 431.82,501.83 432.13,501.84 432.45,501.85 432.76,501.87 433.07,501.88 433.38,501.89 433.69,501.9 434,501.91 434.32,501.92 434.63,501.93 434.94,501.94 435.25,501.95 435.56,501.96 435.88,501.97 436.19,501.98 436.5,501.99 436.81,501.99 437.12,502 437.44,502.01 437.75,502.02 438.06,502.03 438.37,502.04 438.68,502.05 439,502.05 439.31,502.06 439.62,502.07 439.93,502.08 440.24,502.09 440.55,502.09 440.87,502.1 441.18,502.11 441.49,502.12 441.8,502.12 442.11,502.13 442.43,502.14 442.74,502.15 443.05,502.15 443.36,502.16 443.67,502.17 443.99,502.17 444.3,502.18 444.61,502.19 444.92,502.19 445.23,502.2 445.55,502.2 445.86,502.21 446.17,502.22 446.48,502.22 446.79,502.23 447.1,502.23 447.42,502.24 447.73,502.25 448.04,502.25 448.35,502.26 448.66,502.26 448.98,502.27 449.29,502.27 449.6,502.28"/>
<path fill="none" stroke="#00007d" stroke-width="0.6" d="M356.03 488.91V493.68M359.15 484.2V489.2M362.27 476.36V481.73M365.39 449.47V455.93M368.51 412.08V419.81M371.62 376.96V385.72M374.74 396.84V405.04M377.86 439.8V446.61M380.98 471.97V477.54M384.1 480.75V485.92M387.22 486.71V491.59M390.34 491.11V495.77"/>
<g fill="#00007d" stroke="#00007d" stroke-width="0.4">
<circle cx="324.84" cy="505.38" r="2.1"/>
<circle cx="327.96" cy="503.55" r="2.1"/>
<circle cx="331.08" cy="505.38" r="2.1"/>
<circle cx="334.2" cy="505.69" r="2.1"/>
<circle cx="337.32" cy="506" r="2.1"/>
<circle cx="340.43" cy="502.01" r="2.1"/>
<circle cx="343.55" cy="498.34" r="2.1"/>
<circle cx="346.67" cy="496.5" r="2.1"/>
<circle cx="349.79" cy="495.89" r="2.1"/>
<circle cx="352.91" cy="494.97" r="2.1"/>
<circle cx="356.03" cy="491.29" r="2.1"/>
<circle cx="359.15" cy="486.7" r="2.1"/>
<circle cx="362.27" cy="479.04" r="2.1"/>
<circle cx="365.39" cy="452.7" r="2.1"/>
<circle cx="368.51" cy="415.95" r="2.1"/>
<circle cx="371.62" cy="381.34" r="2.1"/>
<circle cx="374.74" cy="400.94" r="2.1"/>
<circle cx="377.86" cy="443.21" r="2.1"/>
<circle cx="380.98" cy="474.76" r="2.1"/>
<circle cx="384.1" cy="483.33" r="2.1"/>
<circle cx="387.22" cy="489.15" r="2.1"/>
<circle cx="390.34" cy="493.44" r="2.1"/>
<circle cx="393.46" cy="497.11" r="2.1"/>
<circle cx="396.58" cy="499.87" r="2.1"/>
<circle cx="399.7" cy="502.63" r="2.1"/>
<circle cx="402.81" cy="501.71" r="2.1"/>
<circle cx="405.93" cy="502.32" r="2.1"/>
<circle cx="409.05" cy="502.63" r="2.1"/>
<circle cx="412.17" cy="502.32" r="2.1"/>
<circle cx="415.29" cy="500.79" r="2.1"/>
<circle cx="418.41" cy="501.71" r="2.1"/>
<circle cx="421.53" cy="500.18" r="2.1"/>
<circle cx="424.65" cy="500.79" r="2.1"/>
<circle cx="427.77" cy="501.4" r="2.1"/>
<circle cx="430.89" cy="504.16" r="2.1"/>
<circle cx="434" cy="503.55" r="2.1"/>
<circle cx="437.12" cy="502.93" r="2.1"/>
<circle cx="440.24" cy="504.16" r="2.1"/>
<circle cx="443.36" cy="503.55" r="2.1"/>
<circle cx="446.48" cy="500.79" r="2.1"/>
<circle cx="449.6" cy="500.18" r="2.1"/>
</g>
<g fill="#fff" stroke="#dd3030" stroke-width="0.6">
<rect x="354.08" y="497.31" width="3.9" height="3.9"/>
<rect x="357.2" y="496.39" width="3.9" height="3.9"/>
<rect x="360.32" y="495.47" width="3.9" height="3.9"/>
<rect x="363.44" y="497.31" width="3.9" height="3.9"/>
<rect x="366.56" y="497" width="3.9" height="3.9"/>
<rect x="369.67" y="495.47" width="3.9" height="3.9"/>
<rect x="372.79" y="493.94" width="3.9" height="3.9"/>
<rect x="375.91" y="497.61" width="3.9" height="3.9"/>
<rect x="379.03" y="493.94" width="3.9" height="3.9"/>
<rect x="382.15" y="494.86" width="3.9" height="3.9"/>
<rect x="385.27" y="495.16" width="3.9" height="3.9"/>
<rect x="388.39" y="496.08" width="3.9" height="3.9"/>
<rect x="391.51" y="496.7" width="3.9" height="3.9"/>
<rect x="394.63" y="494.86" width="3.9" height="3.9"/>
<rect x="397.75" y="493.94" width="3.9" height="3.9"/>
<rect x="400.87" y="496.7" width="3.9" height="3.9"/>
<rect x="403.98" y="493.33" width="3.9" height="3.9"/>
<rect x="407.1" y="489.04" width="3.9" height="3.9"/>
<rect x="410.22" y="487.51" width="3.9" height="3.9"/>
<rect x="413.34" y="485.98" width="3.9" height="3.9"/>
<rect x="416.46" y="490.26" width="3.9" height="3.9"/>
<rect x="419.58" y="492.41" width="3.9" height="3.9"/>
<rect x="422.7" y="493.63" width="3.9" height="3.9"/>
<rect x="425.82" y="496.7" width="3.9" height="3.9"/>
<rect x="428.94" y="493.02" width="3.9" height="3.9"/>
<rect x="432.05" y="495.47" width="3.9" height="3.9"/>
<rect x="435.17" y="494.55" width="3.9" height="3.9"/>
<rect x="438.29" y="495.16" width="3.9" height="3.9"/>
<rect x="441.41" y="493.02" width="3.9" height="3.9"/>
<rect x="444.53" y="492.1" width="3.9" height="3.9"/>
<rect x="447.65" y="494.55" width="3.9" height="3.9"/>
</g>
<polyline fill="none" stroke="#cf1f1f" stroke-width="0.95" stroke-linejoin="round" points="356.03,497.98 356.26,497.98 356.5,497.98 356.73,497.98 356.97,497.97 357.2,497.97 357.43,497.97 357.67,497.97 357.9,497.97 358.14,497.97 358.37,497.97 358.6,497.97 358.84,497.97 359.07,497.97 359.3,497.97 359.54,497.97 359.77,497.97 360.01,497.97 360.24,497.97 360.47,497.97 360.71,497.97 360.94,497.97 361.18,497.97 361.41,497.96 361.64,497.96 361.88,497.96 362.11,497.96 362.35,497.96 362.58,497.96 362.81,497.96 363.05,497.96 363.28,497.96 363.52,497.96 363.75,497.96 363.98,497.96 364.22,497.96 364.45,497.96 364.69,497.96 364.92,497.95 365.15,497.95 365.39,497.95 365.62,497.95 365.85,497.95 366.09,497.95 366.32,497.95 366.56,497.95 366.79,497.95 367.02,497.95 367.26,497.95 367.49,497.95 367.73,497.94 367.96,497.94 368.19,497.94 368.43,497.94 368.66,497.94 368.9,497.94 369.13,497.94 369.36,497.94 369.6,497.94 369.83,497.94 370.07,497.94 370.3,497.93 370.53,497.93 370.77,497.93 371,497.93 371.24,497.93 371.47,497.93 371.7,497.93 371.94,497.93 372.17,497.93 372.4,497.92 372.64,497.92 372.87,497.92 373.11,497.92 373.34,497.92 373.57,497.92 373.81,497.92 374.04,497.92 374.28,497.91 374.51,497.91 374.74,497.91 374.98,497.91 375.21,497.91 375.45,497.91 375.68,497.91 375.91,497.9 376.15,497.9 376.38,497.9 376.62,497.9 376.85,497.9 377.08,497.9 377.32,497.89 377.55,497.89 377.79,497.89 378.02,497.89 378.25,497.89 378.49,497.89 378.72,497.88 378.95,497.88 379.19,497.88 379.42,497.88 379.66,497.88 379.89,497.87 380.12,497.87 380.36,497.87 380.59,497.87 380.83,497.86 381.06,497.86 381.29,497.86 381.53,497.86 381.76,497.86 382,497.85 382.23,497.85 382.46,497.85 382.7,497.84 382.93,497.84 383.17,497.84 383.4,497.84 383.63,497.83 383.87,497.83 384.1,497.83 384.33,497.82 384.57,497.82 384.8,497.82 385.04,497.81 385.27,497.81 385.5,497.81 385.74,497.8 385.97,497.8 386.21,497.8 386.44,497.79 386.67,497.79 386.91,497.78 387.14,497.78 387.38,497.78 387.61,497.77 387.84,497.77 388.08,497.76 388.31,497.76 388.55,497.75 388.78,497.75 389.01,497.74 389.25,497.74 389.48,497.73 389.72,497.73 389.95,497.72 390.18,497.72 390.42,497.71 390.65,497.7 390.88,497.7 391.12,497.69 391.35,497.68 391.59,497.68 391.82,497.67 392.05,497.66 392.29,497.66 392.52,497.65 392.76,497.64 392.99,497.63 393.22,497.62 393.46,497.61 393.69,497.61 393.93,497.6 394.16,497.59 394.39,497.58 394.63,497.57 394.86,497.56 395.1,497.55 395.33,497.53 395.56,497.52 395.8,497.51 396.03,497.5 396.27,497.48 396.5,497.47 396.73,497.46 396.97,497.44 397.2,497.43 397.43,497.41 397.67,497.4 397.9,497.38 398.14,497.36 398.37,497.34 398.6,497.33 398.84,497.31 399.07,497.29 399.31,497.26 399.54,497.24 399.77,497.22 400.01,497.2 400.24,497.17 400.48,497.14 400.71,497.12 400.94,497.09 401.18,497.06 401.41,497.03 401.65,497 401.88,496.96 402.11,496.93 402.35,496.89 402.58,496.85 402.81,496.81 403.05,496.76 403.28,496.72 403.52,496.67 403.75,496.62 403.98,496.57 404.22,496.51 404.45,496.45 404.69,496.39 404.92,496.33 405.15,496.26 405.39,496.18 405.62,496.11 405.86,496.02 406.09,495.94 406.32,495.85 406.56,495.75 406.79,495.65 407.03,495.54 407.26,495.42 407.49,495.3 407.73,495.17 407.96,495.03 408.2,494.89 408.43,494.73 408.66,494.57 408.9,494.39 409.13,494.21 409.36,494.01 409.6,493.81 409.83,493.59 410.07,493.36 410.3,493.13 410.53,492.88 410.77,492.62 411,492.35 411.24,492.07 411.47,491.79 411.7,491.5 411.94,491.21 412.17,490.93 412.41,490.65 412.64,490.38 412.87,490.12 413.11,489.88 413.34,489.67 413.58,489.49 413.81,489.35 414.04,489.24 414.28,489.17 414.51,489.15 414.75,489.17 414.98,489.24 415.21,489.35 415.45,489.49 415.68,489.67 415.91,489.88 416.15,490.12 416.38,490.38 416.62,490.65 416.85,490.93 417.08,491.21 417.32,491.5 417.55,491.79 417.79,492.07 418.02,492.35 418.25,492.62 418.49,492.88 418.72,493.13 418.96,493.36 419.19,493.59 419.42,493.81 419.66,494.01 419.89,494.21 420.13,494.39 420.36,494.57 420.59,494.73 420.83,494.89 421.06,495.03 421.3,495.17 421.53,495.3 421.76,495.42 422,495.54 422.23,495.65 422.46,495.75 422.7,495.85 422.93,495.94 423.17,496.02 423.4,496.11 423.63,496.18 423.87,496.26 424.1,496.33 424.34,496.39 424.57,496.45 424.8,496.51 425.04,496.57 425.27,496.62 425.51,496.67 425.74,496.72 425.97,496.76 426.21,496.81 426.44,496.85 426.68,496.89 426.91,496.93 427.14,496.96 427.38,497 427.61,497.03 427.84,497.06 428.08,497.09 428.31,497.12 428.55,497.14 428.78,497.17 429.01,497.2 429.25,497.22 429.48,497.24 429.72,497.26 429.95,497.29 430.18,497.31 430.42,497.33 430.65,497.34 430.89,497.36 431.12,497.38 431.35,497.4 431.59,497.41 431.82,497.43 432.06,497.44 432.29,497.46 432.52,497.47 432.76,497.48 432.99,497.5 433.23,497.51 433.46,497.52 433.69,497.53 433.93,497.55 434.16,497.56 434.39,497.57 434.63,497.58 434.86,497.59 435.1,497.6 435.33,497.61 435.56,497.61 435.8,497.62 436.03,497.63 436.27,497.64 436.5,497.65 436.73,497.66 436.97,497.66 437.2,497.67 437.44,497.68 437.67,497.68 437.9,497.69 438.14,497.7 438.37,497.7 438.61,497.71 438.84,497.72 439.07,497.72 439.31,497.73 439.54,497.73 439.78,497.74 440.01,497.74 440.24,497.75 440.48,497.75 440.71,497.76 440.94,497.76 441.18,497.77 441.41,497.77 441.65,497.78 441.88,497.78 442.11,497.78 442.35,497.79 442.58,497.79 442.82,497.8 443.05,497.8 443.28,497.8 443.52,497.81 443.75,497.81 443.99,497.81 444.22,497.82 444.45,497.82 444.69,497.82 444.92,497.83 445.16,497.83 445.39,497.83 445.62,497.84 445.86,497.84 446.09,497.84 446.33,497.84 446.56,497.85 446.79,497.85 447.03,497.85 447.26,497.86 447.49,497.86 447.73,497.86 447.96,497.86 448.2,497.86 448.43,497.87 448.66,497.87 448.9,497.87 449.13,497.87 449.37,497.88 449.6,497.88"/>
<text transform="translate(304.3 349.3) scale(1.04 1.0)">(b)</text>
<text transform="translate(374 347.2) scale(1.04 1.0)">6.712 keV</text>
<text transform="translate(373.6 363.8) scale(1.04 1.0)">Q<tspan dx="2.6">=</tspan><tspan dx="1.5">(0,</tspan><tspan dx="4.3" class="i">k</tspan>,<tspan dx="3.9">7)</tspan></text>
<text transform="translate(334.3 402.6) scale(1.04 1.0)">2 K</text>
<text transform="translate(409.3 476.2) scale(1.04 1.0)">7 K</text>
<text transform="translate(379.6 575.1) scale(1.04 1.0)" text-anchor="middle" xml:space="preserve"><tspan class="i">k</tspan>  (r.l.u.)</text>
<text transform="translate(262.7 430.6) rotate(-90) scale(1.04 1.0)" text-anchor="middle" xml:space="preserve">Intensity  (cnts/s)</text>
</g>
</svg></body></html>
